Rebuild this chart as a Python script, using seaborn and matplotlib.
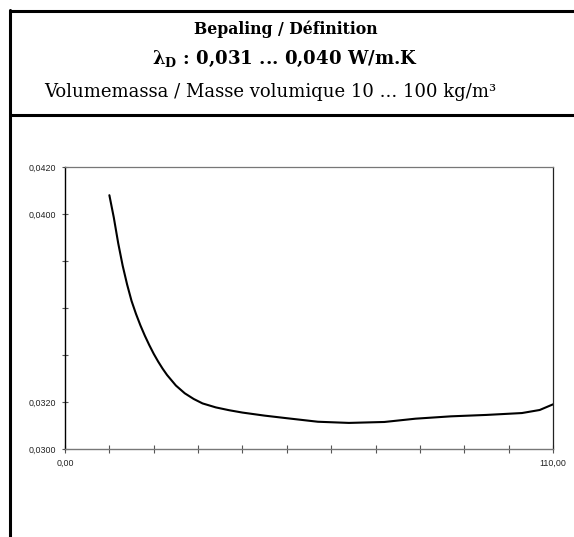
import numpy as np
import pandas as pd
import matplotlib
matplotlib.use("Agg")
import matplotlib.pyplot as plt
from matplotlib.lines import Line2D
import seaborn as sns

# ==========================================
# Data
# ==========================================

density = [10, 11, 12, 13, 14, 15, 16, 17, 18, 19, 20, 21, 22, 23, 25, 27, 29,
           31, 34, 37, 40, 45, 50, 57, 64, 72, 79, 87, 95, 103, 107, 110]
lambda_d = [0.04080, 0.03985, 0.03875, 0.03780, 0.03700, 0.03630, 0.03575,
            0.03526, 0.03482, 0.03442, 0.03405, 0.03372, 0.03342, 0.03315,
            0.03270, 0.03237, 0.03213, 0.03194, 0.03177, 0.03165, 0.03155,
            0.03142, 0.03131, 0.03116, 0.03111, 0.03115, 0.03129, 0.03139,
            0.03145, 0.03153, 0.03166, 0.03190]

y_ticks = [0.030, 0.032, 0.034, 0.036, 0.038, 0.040, 0.042]
y_labels = ["0,0300", "0,0320", "", "", "", "0,0400", "0,0420"]
x_ticks = [0, 10, 20, 30, 40, 50, 60, 70, 80, 90, 100, 110]
x_labels = ["0,00"] + [""] * 10 + ["110,00"]

title_1 = "Bepaling / Définition"
title_2 = "λ$_\\mathbf{D}$ : 0,031 ... 0,040 W/m.K"
title_3 = "Volumemassa / Masse volumique 10 ... 100 kg/m³"

df = pd.DataFrame({"density": density, "lambda": lambda_d})

# ==========================================
# Figure
# ==========================================

sns.set_style("white")
plt.rcParams["font.family"] = ["Liberation Sans", "DejaVu Sans"]
plt.rcParams["mathtext.fontset"] = "dejavuserif"
plt.rcParams["text.color"] = "black"

W, H = 574, 537
fig = plt.figure(figsize=(W / 100, H / 100), dpi=100)
ax = fig.add_axes([65 / W, 1 - 449 / H, 488 / W, 282 / H])

sns.lineplot(data=df, x="density", y="lambda", color="black", lw=1.5, ax=ax)

ax.set_xlim(0, 110)
ax.set_ylim(0.030, 0.042)
ax.set_xticks(x_ticks)
ax.set_xticklabels(x_labels, fontsize=6.4, color="#222222")
ax.set_yticks(y_ticks)
ax.set_yticklabels(y_labels, fontsize=6.4, color="#222222")
ax.set_xlabel("")
ax.set_ylabel("")

ax.tick_params(axis="x", bottom=True, direction="inout", length=6,
               width=0.8, color="#555555", pad=4)
ax.tick_params(axis="y", left=True, direction="inout", length=5,
               width=0.8, color="#555555", pad=4)

ax.spines["left"].set_color("black")
ax.spines["left"].set_linewidth(1.0)
ax.spines["bottom"].set_color("#777777")
ax.spines["bottom"].set_linewidth(1.0)
ax.spines["top"].set_color("#777777")
ax.spines["top"].set_linestyle((0, (1, 1)))
ax.spines["top"].set_linewidth(0.9)
ax.spines["right"].set_color("#222222")
ax.spines["right"].set_linewidth(0.9)

# ==========================================
# Header box and titles
# ==========================================

def px_line(x0, y0, x1, y1):
    fig.add_artist(Line2D([x0 / W, x1 / W], [1 - y0 / H, 1 - y1 / H],
                          color="black", lw=2.2, transform=fig.transFigure))

px_line(10, 10.5, W, 10.5)
px_line(10, 115, W, 115)
px_line(10, 10, 10, H)

serif = ["DejaVu Serif"]
fig.text(286 / W, 1 - 29 / H, title_1, ha="center", va="center",
         fontsize=11.3, fontweight="bold", family=serif)
fig.text(285 / W, 1 - 59 / H, title_2, ha="center", va="center",
         fontsize=13.1, fontweight="bold", family=serif)
fig.text(270 / W, 1 - 92 / H, title_3, ha="center", va="center",
         fontsize=13, family=serif)

fig.savefig("out.png", dpi=100)
